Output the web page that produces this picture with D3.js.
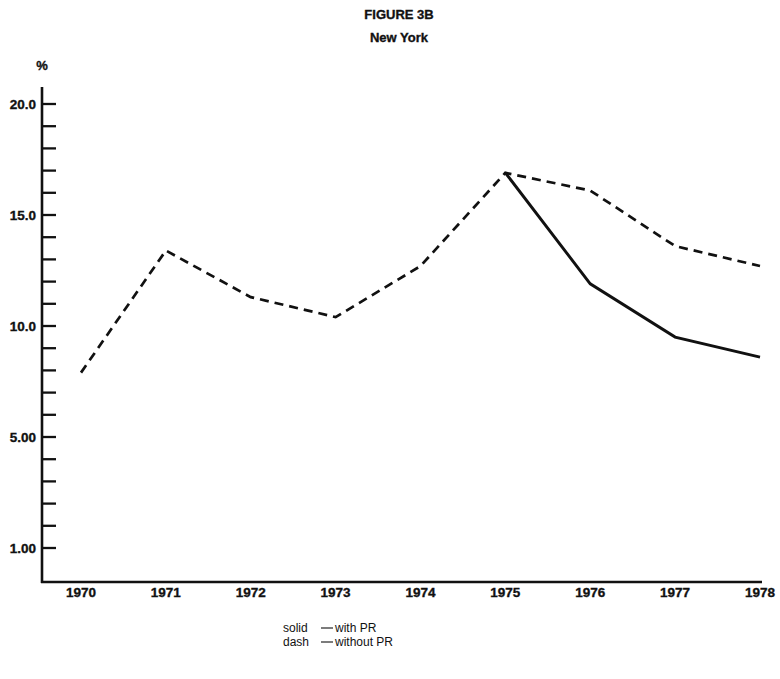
<!DOCTYPE html>
<html>
<head>
<meta charset="utf-8">
<script src="https://cdn.jsdelivr.net/npm/d3@7"></script>
<style>
  body { margin: 0; background: #fff; }
  svg text { font-family: "Liberation Sans", Arial, sans-serif; fill: #111; }
  svg text.bold { font-weight: bold; stroke: #111; stroke-width: 0.35; }
</style>
</head>
<body>
<svg id="chart" width="780" height="679"></svg>
<script>
const years = [1970, 1971, 1972, 1973, 1974, 1975, 1976, 1977, 1978];
const withoutPR = [7.9, 13.4, 11.3, 10.4, 12.7, 16.9, 16.1, 13.6, 12.7];
const withPRYears = [1975, 1976, 1977, 1978];
const withPR = [16.9, 11.9, 9.5, 8.6];
const yTickValues = [0, 5, 10, 15, 20];
const yTickLabels = ['1.00', '5.00', '10.0', '15.0', '20.0'];
const minorTicks = d3.range(0, 21);
const legendKeys = ['solid', 'dash'];
const legendLabels = ['with PR', 'without PR'];

const svg = d3.select('#chart');

let x = d3.scalePoint().domain(years).range([81, 760]);
let y = d3.scaleLinear().domain([0, 20]).range([548, 104]);

// titles
svg.append('text').attr('class', 'bold').attr('x', 399).attr('y', 19).attr('text-anchor', 'middle')
  .attr('font-size', 13).text('FIGURE 3B');
svg.append('text').attr('class', 'bold').attr('x', 399).attr('y', 42).attr('text-anchor', 'middle')
  .attr('font-size', 13).text('New York');
svg.append('text').attr('class', 'bold').attr('x', 42).attr('y', 70).attr('text-anchor', 'middle')
  .attr('font-size', 13).text('%');

// axes lines
const axisX = 42, axisBottom = 582, axisTop = 87;
svg.append('line').attr('x1', axisX).attr('x2', axisX).attr('y1', axisTop).attr('y2', axisBottom + 1)
  .attr('stroke', '#111').attr('stroke-width', 2.6);
svg.append('line').attr('x1', axisX - 1).attr('x2', 762).attr('y1', axisBottom).attr('y2', axisBottom)
  .attr('stroke', '#111').attr('stroke-width', 2.6);

// y ticks (pointing into the plot)
svg.selectAll('.ytick').data(minorTicks).join('line')
  .attr('x1', axisX).attr('x2', axisX + 14)
  .attr('y1', d => y(d)).attr('y2', d => y(d))
  .attr('stroke', '#111').attr('stroke-width', 2.3);

svg.selectAll('.ylabel').data(yTickValues).join('text')
  .attr('class', 'bold')
  .attr('x', 36).attr('y', d => y(d) + 5).attr('text-anchor', 'end')
  .attr('font-size', 13.5)
  .text((d, i) => yTickLabels[i]);

// x labels
svg.selectAll('.xlabel').data(years).join('text')
  .attr('class', 'bold')
  .attr('x', d => x(d)).attr('y', 597).attr('text-anchor', 'middle')
  .attr('font-size', 13.5)
  .text(d => d);

const line = d3.line().x(d => x(d[0])).y(d => y(d[1]));

svg.append('path').datum(years.map((yr, i) => [yr, withoutPR[i]]))
  .attr('d', line).attr('fill', 'none').attr('stroke', '#111')
  .attr('stroke-width', 2.7).attr('stroke-dasharray', '9,6');

svg.append('path').datum(withPRYears.map((yr, i) => [yr, withPR[i]]))
  .attr('d', line).attr('fill', 'none').attr('stroke', '#111')
  .attr('stroke-width', 2.9);

// legend
legendKeys.forEach((key, i) => {
  let yy = 632 + i * 14;
  svg.append('text').attr('x', 283).attr('y', yy).attr('font-size', 12).text(key);
  svg.append('line').attr('x1', 321).attr('x2', 333).attr('y1', yy - 4).attr('y2', yy - 4)
    .attr('stroke', '#111').attr('stroke-width', 1.1);
  svg.append('text').attr('x', 335).attr('y', yy).attr('font-size', 12).text(legendLabels[i]);
});
</script>
</body>
</html>
